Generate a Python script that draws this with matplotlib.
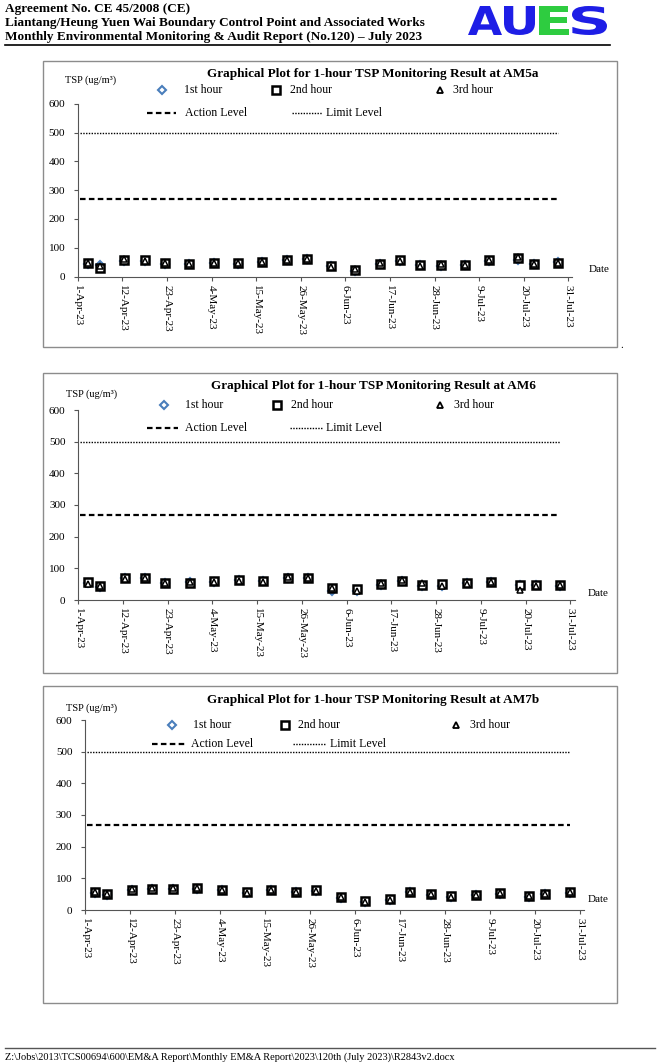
import matplotlib
matplotlib.use('Agg')
import matplotlib.pyplot as plt
from matplotlib.lines import Line2D
from matplotlib.patches import Rectangle, PathPatch
from matplotlib.textpath import TextPath
from matplotlib.font_manager import FontProperties
from matplotlib.transforms import Affine2D, IdentityTransform
import pandas as pd

# ---------------- data ----------------
dates = ['2023-04-03', '2023-04-06', '2023-04-12', '2023-04-17', '2023-04-22',
         '2023-04-28', '2023-05-04', '2023-05-10', '2023-05-16', '2023-05-22',
         '2023-05-27', '2023-06-02', '2023-06-08', '2023-06-14', '2023-06-19',
         '2023-06-24', '2023-06-29', '2023-07-05', '2023-07-11', '2023-07-18',
         '2023-07-22', '2023-07-28']

am5a_1st = [45, 40, 55, 54, 45, 42, 46, 45, 50, 56, 60, 36, 20, 42, 54, 41, 38, 39, 55, 58, 42, 50]
am5a_2nd = [47, 31, 58, 56, 47, 45, 48, 46, 51, 58, 61, 35, 22, 45, 56, 40, 40, 40, 56, 63, 44, 48]
am5a_3rd = [46, 35, 60, 55, 46, 44, 47, 47, 52, 57, 62, 34, 25, 46, 55, 38, 45, 39, 58, 68, 43, 46]

am6_1st = [55, 42, 68, 69, 54, 56, 58, 62, 59, 70, 70, 30, 28, 48, 61, 44, 45, 55, 58, 48, 46, 45]
am6_2nd = [56, 45, 70, 70, 55, 55, 60, 62, 60, 70, 70, 37, 36, 50, 60, 47, 50, 55, 56, 48, 46, 48]
am6_3rd = [52, 44, 66, 68, 53, 56, 57, 60, 58, 73, 71, 37, 30, 53, 62, 55, 44, 52, 58, 33, 45, 47]

am7b_1st = [55, 48, 62, 65, 65, 66, 62, 54, 62, 56, 60, 38, 25, 32, 56, 48, 42, 46, 52, 42, 49, 55]
am7b_2nd = [57, 51, 64, 67, 67, 68, 64, 56, 64, 58, 62, 40, 28, 34, 58, 50, 44, 48, 54, 44, 51, 57]
am7b_3rd = [56, 50, 66, 68, 68, 68, 63, 55, 64, 57, 61, 40, 26, 33, 58, 50, 42, 47, 55, 43, 50, 57]

action_level = 268
limit_level = 500
level_dates = ['2023-04-01', '2023-07-28']

tick_labels = ['1-Apr-23', '12-Apr-23', '23-Apr-23', '4-May-23', '15-May-23', '26-May-23',
               '6-Jun-23', '17-Jun-23', '28-Jun-23', '9-Jul-23', '20-Jul-23', '31-Jul-23']
y_ticks = [0, 100, 200, 300, 400, 500, 600]

stations = ['AM5a', 'AM6', 'AM7b']
series = {'AM5a': (am5a_1st, am5a_2nd, am5a_3rd),
          'AM6': (am6_1st, am6_2nd, am6_3rd),
          'AM7b': (am7b_1st, am7b_2nd, am7b_3rd)}

# ---------------- layout helpers ----------------
W, H = 660, 1064
fig = plt.figure(figsize=(6.6, 10.64), dpi=100)
fig.patch.set_facecolor('white')


def fx(px):
    return px / W


def fy(py):
    return 1 - py / H


SERIF = 'Liberation Serif'
BLUE_MK = '#4A7EBB'
origin = pd.Timestamp('2023-04-01')


def day_pos(ds, offset=0.5):
    return [(pd.Timestamp(d) - origin).days + offset for d in ds]


tick_pos = [(pd.to_datetime(t, format='%d-%b-%y') - origin).days for t in tick_labels]
xpos = day_pos(dates)
lvl_x = day_pos(level_dates)

# ---------------- header ----------------
hdr = ['Agreement No. CE 45/2008 (CE)',
       'Liantang/Heung Yuen Wai Boundary Control Point and Associated Works',
       'Monthly Environmental Monitoring & Audit Report (No.120) \u2013 July 2023']
for i, t in enumerate(hdr):
    fig.text(fx(5), fy(9 + i * 14), t, fontsize=9.5, fontweight='bold',
             family=SERIF, va='center', ha='left')
fig.add_artist(Line2D([fx(5), fx(610)], [fy(45), fy(45)], color='black', lw=1.2,
                      transform=fig.transFigure))

# AUES logo: letters scaled into boxes (pixel coords)
logo_prop = FontProperties(family='DejaVu Sans', weight='bold')
for letter, x0, x1, col in [('A', 468, 502, '#1E1EE6'), ('U', 504, 535, '#1E1EE6'),
                            ('E', 539, 569, '#2ECC40'), ('S', 572, 607, '#1E1EE6')]:
    tp = TextPath((0, 0), letter, size=100, prop=logo_prop)
    ext = tp.get_extents()
    top, bot = 6, 35
    sx = (x1 - x0) / ext.width
    sy = (bot - top) / ext.height
    tr = Affine2D().translate(-ext.x0, -ext.y0).scale(sx, sy).translate(x0, H - bot)
    fig.add_artist(PathPatch(tr.transform_path(tp), facecolor=col, edgecolor='none',
                             transform=IdentityTransform()))

# footer
fig.add_artist(Line2D([fx(5), fx(655)], [fy(1048), fy(1048)], color='#555555', lw=1,
                      transform=fig.transFigure))
fig.text(fx(5), fy(1057),
         'Z:\\Jobs\\2013\\TCS00694\\600\\EM&A Report\\Monthly EM&A Report\\2023\\120th (July 2023)\\R2843v2.docx',
         fontsize=7.5, family=SERIF, va='center', ha='left')

# ---------------- charts ----------------
cfg = [
    dict(box=(43, 61, 617, 347), ax=(77.7, 572.4, 103.7, 276.5), title_y=74, tsp=(65, 80),
         r1=90, r2=113, lx=(162, 184, 276, 290, 440, 453), l2=(147, 176, 185, 292, 322, 326),
         date=(589, 270)),
    dict(box=(43, 373, 617, 673), ax=(78, 574.5, 410, 600), title_y=386, tsp=(66, 394),
         r1=405, r2=428, lx=(164, 185, 277, 291, 440, 454), l2=(147, 178, 185, 290, 322, 326),
         date=(588, 593)),
    dict(box=(43, 686, 617, 1003), ax=(85, 584, 720, 910), title_y=700, tsp=(66, 708),
         r1=725, r2=744, lx=(172, 193, 285, 298, 456, 470), l2=(152, 185, 191, 293, 325, 330),
         date=(588, 900)),
]

for st, c in zip(stations, cfg):
    l, t, r, b = c['box']
    fig.add_artist(Rectangle((fx(l), fy(b)), fx(r) - fx(l), fy(t) - fy(b),
                             transform=fig.transFigure, fill=False,
                             edgecolor='#8c8c8c', lw=1))
    axl, axr, axt, axb = c['ax']
    ax = fig.add_axes([fx(axl), fy(axb), fx(axr) - fx(axl), fy(axt) - fy(axb)])
    ax.set_facecolor('none')
    s1, s2, s3 = series[st]
    ax.plot(lvl_x, [limit_level, limit_level], color='black', lw=1.0,
            linestyle=(0, (1, 1)))
    ax.plot(lvl_x, [action_level, action_level], color='black', lw=1.6,
            linestyle=(0, (2.5, 1.5)))
    ax.plot(xpos, s1, linestyle='none', marker='D', ms=4.5, mfc='white', mec=BLUE_MK,
            mew=1.5, zorder=3)
    ax.plot(xpos, s2, linestyle='none', marker='s', ms=5.5, mfc='white', mec='black',
            mew=1.8, zorder=4)
    ax.plot(xpos, s3, linestyle='none', marker='^', ms=4, mfc='white', mec='black',
            mew=1.1, zorder=5)
    ax.set_xlim(0, 122)
    ax.set_ylim(0, 600)
    ax.set_yticks(y_ticks)
    ax.set_yticklabels([str(v) for v in y_ticks], family=SERIF, fontsize=8)
    ax.set_xticks(tick_pos)
    ax.set_xticklabels(tick_labels, rotation=-90, family=SERIF, fontsize=8,
                       va='top', ha='center')
    for sp in ('top', 'right'):
        ax.spines[sp].set_visible(False)
    for sp in ('left', 'bottom'):
        ax.spines[sp].set_color('#555555')
        ax.spines[sp].set_linewidth(0.8)
    ax.tick_params(axis='both', direction='out', length=3, width=0.8, color='#555555',
                   pad=3)
    ax.tick_params(axis='y', pad=6)

    fig.text(fx((l + r) / 2 + 43), fy(c['title_y']),
             'Graphical Plot for 1-hour TSP Monitoring Result at ' + st,
             fontsize=9.5, fontweight='bold', family=SERIF, ha='center', va='center')
    fig.text(fx(c['tsp'][0]), fy(c['tsp'][1]), 'TSP (ug/m\u00b3)', fontsize=7.5,
             family=SERIF, ha='left', va='center')
    fig.text(fx(c['date'][0]), fy(c['date'][1]), 'Date', fontsize=8, family=SERIF,
             ha='left', va='center')

    dx, t1, sx_, t2, tx, t3 = c['lx']
    y1 = fy(c['r1'])
    fig.add_artist(Line2D([fx(dx)], [y1], marker='D', ms=4.5, mfc='white', mec=BLUE_MK,
                          mew=1.5, linestyle='none', transform=fig.transFigure))
    fig.add_artist(Line2D([fx(sx_)], [y1], marker='s', ms=5.5, mfc='white', mec='black',
                          mew=1.8, linestyle='none', transform=fig.transFigure))
    fig.add_artist(Line2D([fx(tx)], [y1], marker='^', ms=4.5, mfc='white', mec='black',
                          mew=1.3, linestyle='none', transform=fig.transFigure))
    for xx, lab in [(t1, '1st hour'), (t2, '2nd hour'), (t3, '3rd hour')]:
        fig.text(fx(xx), y1, lab, fontsize=8.5, family=SERIF, ha='left', va='center')
    a0, a1, at, d0, d1, dt = c['l2']
    y2 = fy(c['r2'])
    fig.add_artist(Line2D([fx(a0), fx(a1)], [y2, y2], color='black', lw=1.6,
                          linestyle=(0, (2.5, 1.5)), transform=fig.transFigure))
    fig.add_artist(Line2D([fx(d0), fx(d1)], [y2, y2], color='black', lw=1.0,
                          linestyle=(0, (1, 1)), transform=fig.transFigure))
    fig.text(fx(at), y2, 'Action Level', fontsize=8.5, family=SERIF, ha='left', va='center')
    fig.text(fx(dt), y2, 'Limit Level', fontsize=8.5, family=SERIF, ha='left', va='center')

fig.text(fx(620), fy(345), '.', fontsize=8, family=SERIF, ha='left', va='center')

fig.savefig('out.png', dpi=100)
